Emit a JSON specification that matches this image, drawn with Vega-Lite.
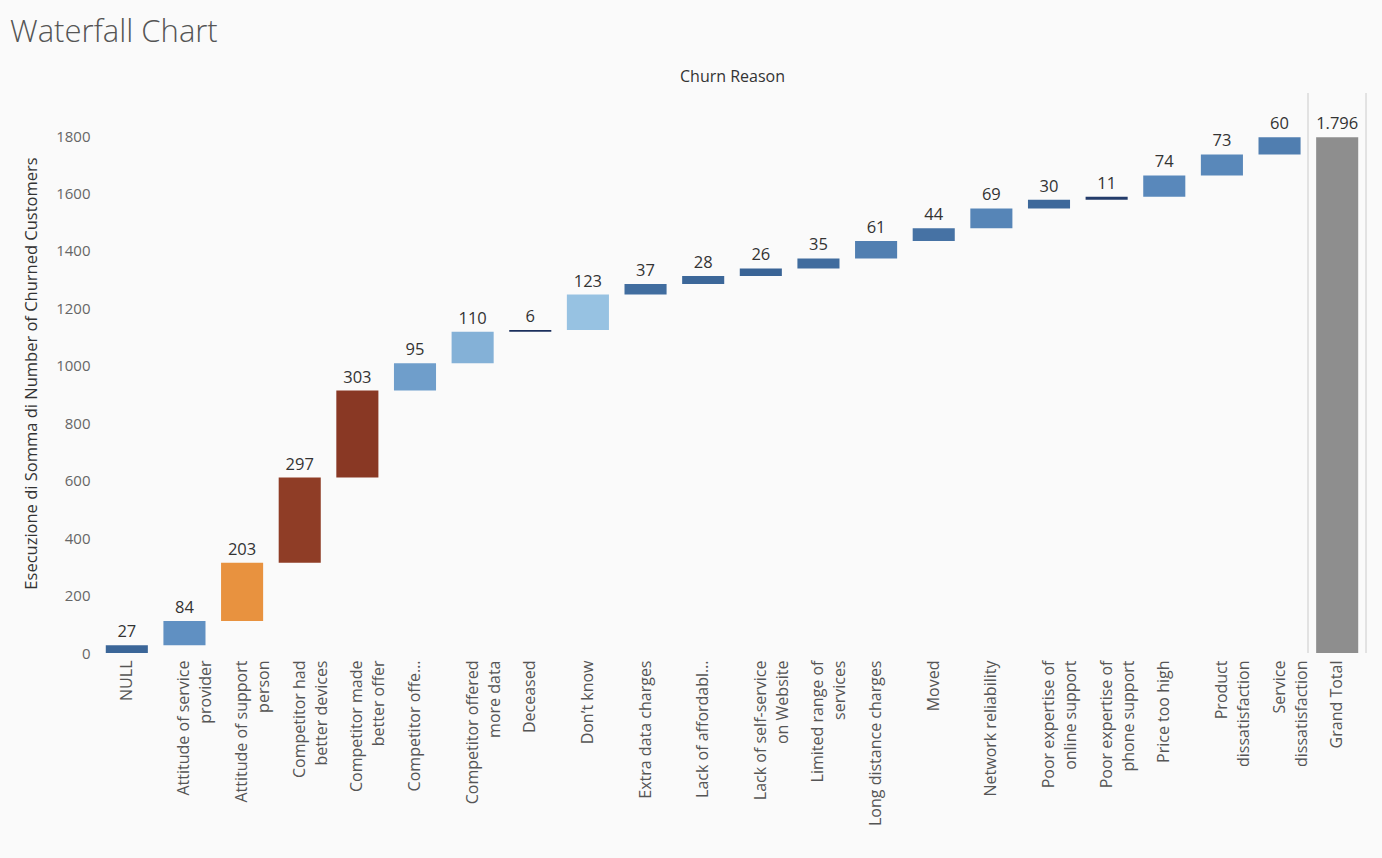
{
  "$schema": "https://vega.github.io/schema/vega-lite/v6.json",
  "width": 1268,
  "height": 560,
  "autosize": {"type": "none"},
  "padding": {"left": 98, "top": 93, "right": 16, "bottom": 205},
  "background": "#fafafa",
  "title": {
    "text": "Waterfall Chart",
    "anchor": "start",
    "frame": "group",
    "dx": -88,
    "offset": 19,
    "fontSize": 31,
    "font": "Open Sans",
    "fontWeight": 300,
    "color": "#555555"
  },
  "config": {
    "view": {"stroke": null},
    "font": "Open Sans",
    "locale": {"number": {"decimal": ",", "thousands": ".", "grouping": [3], "currency": ["€", ""]}},
    "axisY": {
      "title": "Esecuzione di Somma di Number of Churned Customers",
      "titleFontSize": 16.5,
      "titleFontWeight": "normal",
      "titleColor": "#333333",
      "titlePadding": 16,
      "format": "d",
      "labelFontSize": 15,
      "labelColor": "#666666",
      "labelPadding": 8,
      "ticks": false,
      "domain": false,
      "grid": false
    }
  },
  "data": {
    "values": [
      {"reason": "NULL", "value": 27, "start": 0, "end": 27},
      {"reason": "Attitude of service provider", "value": 84, "start": 27, "end": 111},
      {"reason": "Attitude of support person", "value": 203, "start": 111, "end": 314},
      {"reason": "Competitor had better devices", "value": 297, "start": 314, "end": 611},
      {"reason": "Competitor made better offer", "value": 303, "start": 611, "end": 914},
      {"reason": "Competitor offered higher download speeds", "value": 95, "start": 914, "end": 1009},
      {"reason": "Competitor offered more data", "value": 110, "start": 1009, "end": 1119},
      {"reason": "Deceased", "value": 6, "start": 1119, "end": 1125},
      {"reason": "Don’t know", "value": 123, "start": 1125, "end": 1248},
      {"reason": "Extra data charges", "value": 37, "start": 1248, "end": 1285},
      {"reason": "Lack of affordable download/upload speed", "value": 28, "start": 1285, "end": 1313},
      {"reason": "Lack of self-service on Website", "value": 26, "start": 1313, "end": 1339},
      {"reason": "Limited range of services", "value": 35, "start": 1339, "end": 1374},
      {"reason": "Long distance charges", "value": 61, "start": 1374, "end": 1435},
      {"reason": "Moved", "value": 44, "start": 1435, "end": 1479},
      {"reason": "Network reliability", "value": 69, "start": 1479, "end": 1548},
      {"reason": "Poor expertise of online support", "value": 30, "start": 1548, "end": 1578},
      {"reason": "Poor expertise of phone support", "value": 11, "start": 1578, "end": 1589},
      {"reason": "Price too high", "value": 74, "start": 1589, "end": 1663},
      {"reason": "Product dissatisfaction", "value": 73, "start": 1663, "end": 1736},
      {"reason": "Service dissatisfaction", "value": 60, "start": 1736, "end": 1796},
      {"reason": "Grand Total", "value": 1796, "start": 0, "end": 1796}
    ]
  },
  "resolve": {"axis": {"x": "independent"}},
  "layer": [
    {
      "transform": [{"filter": "datum.reason != 'Grand Total'"}],
      "mark": {"type": "bar"},
      "encoding": {
        "x": {
          "field": "reason",
          "type": "nominal",
          "sort": null,
          "scale": {
            "domain": ["NULL", "Attitude of service provider", "Attitude of support person", "Competitor had better devices", "Competitor made better offer", "Competitor offered higher download speeds", "Competitor offered more data", "Deceased", "Don’t know", "Extra data charges", "Lack of affordable download/upload speed", "Lack of self-service on Website", "Limited range of services", "Long distance charges", "Moved", "Network reliability", "Poor expertise of online support", "Poor expertise of phone support", "Price too high", "Product dissatisfaction", "Service dissatisfaction", "Grand Total"],
            "paddingInner": 0.27,
            "paddingOuter": 0.135
          },
          "axis": {
            "orient": "bottom",
            "title": null,
            "labelAngle": -90,
            "labelFontSize": 16,
            "labelColor": "#555555",
            "labelLineHeight": 22,
            "labelPadding": 7,
            "labelLimit": 220,
            "ticks": false,
            "domain": false,
            "labelExpr": "datum.value == 'Attitude of service provider' ? ['Attitude of service','provider'] : datum.value == 'Attitude of support person' ? ['Attitude of support','person'] : datum.value == 'Competitor had better devices' ? ['Competitor had','better devices'] : datum.value == 'Competitor made better offer' ? ['Competitor made','better offer'] : datum.value == 'Competitor offered higher download speeds' ? 'Competitor offe…' : datum.value == 'Competitor offered more data' ? ['Competitor offered','more data'] : datum.value == 'Lack of affordable download/upload speed' ? 'Lack of affordabl…' : datum.value == 'Lack of self-service on Website' ? ['Lack of self-service','on Website'] : datum.value == 'Limited range of services' ? ['Limited range of','services'] : datum.value == 'Poor expertise of online support' ? ['Poor expertise of','online support'] : datum.value == 'Poor expertise of phone support' ? ['Poor expertise of','phone support'] : datum.value == 'Product dissatisfaction' ? ['Product','dissatisfaction'] : datum.value == 'Service dissatisfaction' ? ['Service','dissatisfaction'] : datum.value"
          }
        },
        "y": {
          "field": "start",
          "type": "quantitative",
          "scale": {"domain": [0, 1950], "nice": false},
          "axis": {
            "title": "Esecuzione di Somma di Number of Churned Customers",
            "values": [0, 200, 400, 600, 800, 1000, 1200, 1400, 1600, 1800]
          }
        },
        "y2": {"field": "end"},
        "color": {
          "field": "value",
          "type": "quantitative",
          "legend": null,
          "scale": {
            "domain": [6, 27, 84, 123, 203, 297],
            "range": ["#1b2f5c", "#3b6698", "#6090c2", "#97c2e2", "#e8923f", "#8f3d26"]
          }
        }
      }
    },
    {
      "mark": {"type": "rule", "color": "#e2e2e2", "strokeWidth": 1},
      "encoding": {
        "x": {"datum": "Grand Total", "type": "nominal", "bandPosition": -0.185, "axis": null}
      }
    },
    {
      "mark": {"type": "rule", "color": "#e2e2e2", "strokeWidth": 1},
      "encoding": {
        "x": {"datum": "Grand Total", "type": "nominal", "bandPosition": 1.185, "axis": null}
      }
    },
    {
      "transform": [{"filter": "datum.reason == 'Grand Total'"}],
      "mark": {"type": "bar", "color": "#8e8e8e"},
      "encoding": {
        "x": {"field": "reason", "type": "nominal", "sort": null, "axis": null},
        "y": {
          "field": "start",
          "type": "quantitative",
          "axis": {
            "title": "Esecuzione di Somma di Number of Churned Customers",
            "values": [0, 200, 400, 600, 800, 1000, 1200, 1400, 1600, 1800]
          }
        },
        "y2": {"field": "end"}
      }
    },
    {
      "mark": {"type": "text", "baseline": "bottom", "dy": -5, "fontSize": 16.5, "color": "#333333"},
      "encoding": {
        "x": {
          "field": "reason",
          "type": "nominal",
          "sort": null,
          "axis": {
            "orient": "top",
            "labels": false,
            "ticks": false,
            "domain": false,
            "title": "Churn Reason",
            "titleFontSize": 16,
            "titleFontWeight": "normal",
            "titleColor": "#333333",
            "titlePadding": 9
          }
        },
        "y": {
          "field": "end",
          "type": "quantitative",
          "axis": {
            "title": "Esecuzione di Somma di Number of Churned Customers",
            "values": [0, 200, 400, 600, 800, 1000, 1200, 1400, 1600, 1800]
          }
        },
        "text": {"field": "value", "type": "quantitative", "format": ",d"}
      }
    }
  ]
}
